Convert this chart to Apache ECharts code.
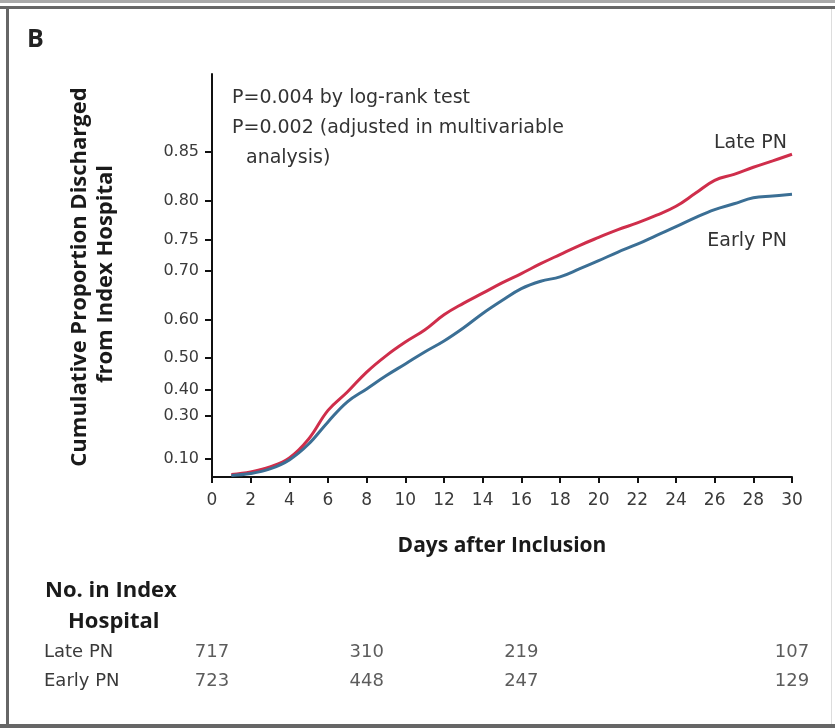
<!DOCTYPE html>
<html>
<head>
<meta charset="utf-8">
<script src="https://cdn.jsdelivr.net/npm/echarts@6/dist/echarts.min.js"></script>
<style>
html,body{margin:0;padding:0;background:#fff;}
#chart{width:835px;height:728px;}
</style>
</head>
<body>
<div id="chart"></div>
<script>
// ---- data ----
var days = [1,2,3,4,5,6,7,8,9,10,11,12,13,14,15,16,17,18,19,20,21,22,23,24,25,26,27,28,29,30];
var latePN = [0.015,0.029,0.057,0.105,0.199,0.322,0.391,0.458,0.507,0.545,0.576,0.612,0.637,0.658,0.678,0.695,0.712,0.727,0.741,0.753,0.764,0.773,0.783,0.794,0.809,0.823,0.829,0.836,0.842,0.848];
var earlyPN = [0.009,0.020,0.046,0.095,0.175,0.275,0.355,0.402,0.446,0.483,0.518,0.548,0.581,0.615,0.643,0.667,0.681,0.689,0.703,0.717,0.731,0.743,0.756,0.768,0.780,0.790,0.797,0.804,0.806,0.808];
var yTicks = [0.10,0.30,0.40,0.50,0.60,0.70,0.75,0.80,0.85];
var riskDays = [0,8,16,30];
var riskLate = [717,310,219,107];
var riskEarly = [723,448,247,129];
var riskGroups = ['Late PN','Early PN'];

// the y axis is drawn on a -ln(1-p) scale
function tf(p){ return -Math.log(1-p); }
function pairs(xs, ys){ return xs.map(function(x,i){ return [x, tf(ys[i])]; }); }

var FONT = '"Open Sans","Noto Sans","DejaVu Sans",sans-serif';
var RFONT = '"DejaVu Sans","Open Sans",sans-serif';
var riskData = [];
riskDays.forEach(function(d,i){
  riskData.push([d,'Late PN',riskLate[i]]);
  riskData.push([d,'Early PN',riskEarly[i]]);
});

var chart = echarts.init(document.getElementById('chart'), null, {renderer:'canvas'});
chart.setOption({
  backgroundColor:'#ffffff',
  animation:false,
  textStyle:{fontFamily:FONT},
  grid:[
    {left:212, right:43, top:74, bottom:251},
    {left:212, right:43, top:638, height:58}
  ],
  xAxis:[
    {gridIndex:0, type:'value', min:0, max:30, interval:2,
     axisLine:{lineStyle:{color:'#111', width:2}},
     axisTick:{show:true, length:6, lineStyle:{color:'#111', width:2}},
     axisLabel:{color:'#3a3a3a', fontSize:17, margin:15, fontFamily:RFONT},
     splitLine:{show:false},
     name:'Days after Inclusion', nameLocation:'middle', nameGap:59,
     nameTextStyle:{color:'#1a1a1a', fontSize:21, fontWeight:'bold', fontFamily:FONT}
    },
    {gridIndex:1, type:'value', min:0, max:30, show:false}
  ],
  yAxis:[
    {gridIndex:0, type:'value', min:0, max:2.352,
     axisLine:{show:true, lineStyle:{color:'#111', width:2}},
     axisTick:{show:true, length:7, lineStyle:{color:'#111', width:2}, customValues: yTicks.map(tf)},
     axisLabel:{color:'#3a3a3a', fontSize:16, margin:13, fontFamily:RFONT,
       customValues: yTicks.map(tf),
       formatter:function(v){ return (1-Math.exp(-v)).toFixed(2); }},
     splitLine:{show:false}
    },
    {gridIndex:1, type:'category', data:riskGroups, inverse:true,
     axisLine:{show:false}, axisTick:{show:false}, splitLine:{show:false},
     axisLabel:{color:'#3a3a3a', fontSize:18, align:'left', margin:168, fontFamily:RFONT}
    }
  ],
  series:[
    {name:'Late PN', type:'line', xAxisIndex:0, yAxisIndex:0, data:pairs(days, latePN),
     smooth:0.4, showSymbol:false, lineStyle:{color:'#cf2e4b', width:3}, itemStyle:{color:'#cf2e4b'}},
    {name:'Early PN', type:'line', xAxisIndex:0, yAxisIndex:0, data:pairs(days, earlyPN),
     smooth:0.4, showSymbol:false, lineStyle:{color:'#3b6f95', width:3}, itemStyle:{color:'#3b6f95'}},
    {name:'risk', type:'scatter', xAxisIndex:1, yAxisIndex:1, data:riskData,
     symbolSize:1, itemStyle:{color:'rgba(0,0,0,0)'},
     label:{show:true, position:'inside', color:'#333', fontSize:18, fontFamily:RFONT,
       formatter:function(p){ return String(p.value[2]); }}}
  ],
  graphic:[
    {type:'rect', shape:{x:0,y:0,width:835,height:3}, style:{fill:'#a9a9a9'}, silent:true},
    {type:'rect', shape:{x:0,y:6,width:835,height:3}, style:{fill:'#666'}, silent:true},
    {type:'rect', shape:{x:6,y:6,width:3,height:722}, style:{fill:'#666'}, silent:true},
    {type:'rect', shape:{x:0,y:724,width:835,height:4}, style:{fill:'#666'}, silent:true},
    {type:'rect', shape:{x:831,y:9,width:1,height:715}, style:{fill:'#ddd'}, silent:true},
    {type:'text', x:27, y:40, style:{text:'B', fill:'#222', font:'bold 25px ' + FONT, verticalAlign:'middle'}},
    {type:'text', x:80, y:277, rotation:Math.PI/2,
     style:{text:'Cumulative Proportion Discharged', fill:'#1a1a1a', font:'bold 22px ' + FONT, align:'center', verticalAlign:'middle'}},
    {type:'text', x:106, y:274, rotation:Math.PI/2,
     style:{text:'from Index Hospital', fill:'#1a1a1a', font:'bold 22px ' + FONT, align:'center', verticalAlign:'middle'}},
    {type:'text', x:232, y:98, style:{text:'P=0.004 by log-rank test', fill:'#333', font:'19px ' + RFONT, verticalAlign:'middle'}},
    {type:'text', x:232, y:128, style:{text:'P=0.002 (adjusted in multivariable', fill:'#333', font:'19px ' + RFONT, verticalAlign:'middle'}},
    {type:'text', x:246, y:158, style:{text:'analysis)', fill:'#333', font:'19px ' + RFONT, verticalAlign:'middle'}},
    {type:'text', x:787, y:143, style:{text:'Late PN', fill:'#333', font:'19px ' + RFONT, align:'right', verticalAlign:'middle'}},
    {type:'text', x:787, y:241, style:{text:'Early PN', fill:'#333', font:'19px ' + RFONT, align:'right', verticalAlign:'middle'}},
    {type:'text', x:45, y:591, style:{text:'No. in Index', fill:'#1a1a1a', font:'bold 22px ' + FONT, verticalAlign:'middle'}},
    {type:'text', x:68, y:622, style:{text:'Hospital', fill:'#1a1a1a', font:'bold 22px ' + FONT, verticalAlign:'middle'}}
  ]
});
</script>
</body>
</html>
